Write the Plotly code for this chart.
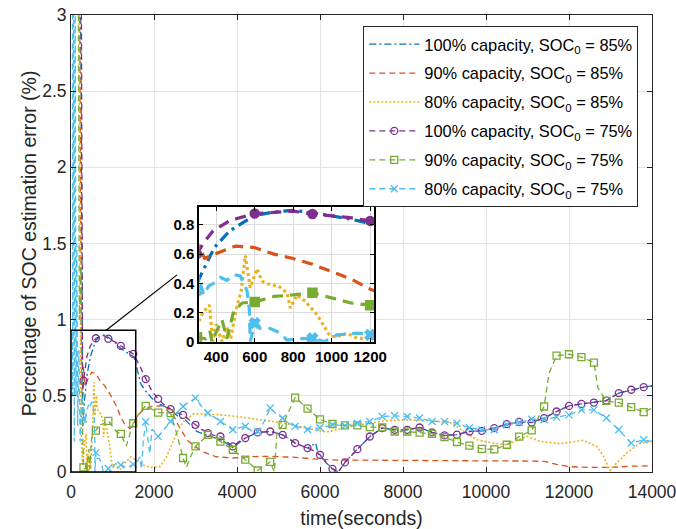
import numpy as np
import plotly.graph_objects as go

# ---------------- data (time [s], SOC estimation error [%]) ----------------
blue_100_85 = [(0, 15), (285, 0.3), (310, 0.43), (350, 0.54), (390, 0.645), (470, 0.76), (600, 0.865),
               (700, 0.889), (800, 0.90), (900, 0.885), (1000, 0.865), (1100, 0.84), (1200, 0.81),
               (1300, 0.79), (1400, 0.775), (1520, 0.755), (1600, 0.66), (1680, 0.58), (1800, 0.53),
               (1900, 0.5), (2000, 0.47), (2150, 0.444), (2400, 0.41), (2600, 0.36), (2750, 0.343),
               (3030, 0.267), (3350, 0.234), (3600, 0.215), (3900, 0.16), (4200, 0.223), (4500, 0.26),
               (4800, 0.266), (5100, 0.244), (5400, 0.19), (5700, 0.157), (5900, 0.19), (5950, 0.12),
               (6000, 0.11), (6300, 0.02), (6442, 0.0), (6600, 0.063), (6900, 0.15), (7200, 0.233),
               (7500, 0.288), (7800, 0.277), (8100, 0.277), (8400, 0.292), (8700, 0.26), (9000, 0.24),
               (9300, 0.245), (9600, 0.266), (9900, 0.27), (10200, 0.288), (10500, 0.314), (10800, 0.329),
               (11100, 0.325), (11400, 0.354), (11700, 0.397), (12000, 0.434), (12300, 0.447),
               (12600, 0.456), (12900, 0.469), (13200, 0.518), (13500, 0.54), (13800, 0.557), (14000, 0.566)]

orange_90_85 = [(0, 15), (250, 0.72), (300, 0.68), (340, 0.57), (390, 0.6), (500, 0.655), (600, 0.645),
                (700, 0.6), (800, 0.57), (900, 0.53), (1000, 0.48), (1100, 0.43), (1200, 0.36), (1300, 0.31),
                (1420, 0.285), (1500, 0.31), (1600, 0.37), (1750, 0.41), (1950, 0.43), (2200, 0.435),
                (2400, 0.41), (2600, 0.3), (2800, 0.21), (3000, 0.165), (3200, 0.13), (3500, 0.1),
                (3900, 0.092), (4300, 0.1), (4700, 0.103), (5300, 0.098), (5900, 0.085), (6400, 0.078),
                (7000, 0.078), (8000, 0.075), (9000, 0.074), (10000, 0.073), (11000, 0.072), (11400, 0.07),
                (11700, 0.05), (12000, 0.035), (12500, 0.03), (13000, 0.03), (13500, 0.038), (14000, 0.04)]

yellow_80_85 = [(0, 15), (240, 0.3), (280, 0.05), (330, 0.2), (365, 0.25), (382, 0.0), (400, 0.12), (430, 0.0),
                (455, 0.1), (475, 0.02), (500, 0.2), (530, 0.35), (551, 0.59), (577, 0.37), (612, 0.5),
                (638, 0.415), (681, 0.39), (725, 0.38), (768, 0.334), (785, 0.23), (820, 0.32), (863, 0.277),
                (924, 0.184), (967, 0.09), (993, 0.035), (1028, 0.035), (1080, 0.058), (1132, 0.023),
                (1200, 0.02), (1300, 0.06), (1450, 0.1), (1550, 0.08), (1700, 0.05), (1900, 0.03),
                (2145, 0.035), (2306, 0.102), (2546, 0.256), (2707, 0.332), (2948, 0.382), (3511, 0.377),
                (3992, 0.365), (4555, 0.343), (5117, 0.321), (5680, 0.288), (6162, 0.262), (6563, 0.288),
                (6965, 0.31), (7527, 0.335), (8009, 0.343), (8491, 0.339), (9134, 0.325), (9456, 0.27),
                (9777, 0.212), (10178, 0.19), (10500, 0.179), (10982, 0.234), (11303, 0.201), (11786, 0.186),
                (12348, 0.208), (12670, 0.168), (12830, 0.103), (12991, 0.01), (13152, 0.06), (13393, 0.125),
                (13714, 0.19), (14000, 0.201)]

purple_100_75 = [(0, 25), (280, 0.5), (300, 0.6), (330, 0.67), (384, 0.76), (470, 0.83), (600, 0.878),
                 (716, 0.888), (800, 0.895), (900, 0.875), (1000, 0.862), (1096, 0.85), (1200, 0.828),
                 (1350, 0.8), (1500, 0.775), (1650, 0.7), (1800, 0.61), (1950, 0.53), (2100, 0.48),
                 (2250, 0.44), (2400, 0.413), (2550, 0.39), (2700, 0.375), (2850, 0.34), (3000, 0.31),
                 (3150, 0.28), (3300, 0.255), (3450, 0.24), (3600, 0.233), (3750, 0.2), (3900, 0.168),
                 (4050, 0.2), (4200, 0.223), (4350, 0.245), (4500, 0.26), (4800, 0.266), (5100, 0.244),
                 (5250, 0.22), (5400, 0.19), (5700, 0.157), (5850, 0.14), (6000, 0.113), (6150, 0.06),
                 (6300, 0.02), (6442, 0.0), (6600, 0.063), (6900, 0.15), (7200, 0.233), (7500, 0.288),
                 (7800, 0.277), (8100, 0.277), (8400, 0.292), (8700, 0.26), (9000, 0.24), (9300, 0.245),
                 (9600, 0.266), (9900, 0.27), (10200, 0.288), (10500, 0.314), (10800, 0.329), (11100, 0.325),
                 (11400, 0.354), (11700, 0.397), (12000, 0.434), (12300, 0.447), (12600, 0.456),
                 (12900, 0.469), (13200, 0.518), (13500, 0.54), (13800, 0.557), (14000, 0.566)]

green_90_75 = [(0, 20), (200, 1.0), (235, 1.35), (265, 0.5), (300, 0.03), (345, 0.02), (368, 0.07), (377, 0.0),
               (430, 0.15), (455, 0.02), (491, 0.21), (535, 0.265), (600, 0.272), (700, 0.31), (800, 0.32),
               (900, 0.336), (1000, 0.3), (1100, 0.265), (1200, 0.25), (1330, 0.17), (1500, 0.32),
               (1650, 0.39), (1800, 0.434), (1950, 0.41), (2100, 0.39), (2250, 0.39), (2400, 0.386),
               (2550, 0.25), (2700, 0.092), (2780, 0.03), (2880, 0.1), (3000, 0.168), (3300, 0.244),
               (3600, 0.2), (3900, 0.146), (4200, 0.081), (4500, 0.01), (4800, 0.066), (4900, 0.0),
               (4960, 0.25), (5100, 0.31), (5400, 0.488), (5700, 0.416), (6000, 0.345), (6300, 0.315),
               (6600, 0.306), (6900, 0.306), (7200, 0.295), (7500, 0.293), (7800, 0.266), (8100, 0.266),
               (8400, 0.258), (8700, 0.25), (9000, 0.229), (9300, 0.197), (9600, 0.173), (9900, 0.152),
               (10200, 0.148), (10500, 0.179), (10800, 0.232), (11100, 0.273), (11400, 0.43), (11520, 0.65),
               (11700, 0.764), (12000, 0.773), (12300, 0.754), (12600, 0.718), (12700, 0.55), (12900, 0.467),
               (13200, 0.456), (13500, 0.426), (13800, 0.393), (14000, 0.42)]

cyan_80_75 = [(0, 25), (40, 0.5), (60, 3.5), (80, 0.2), (100, 3.2), (120, 0.5), (140, 1.5), (160, 0.3),
              (190, 0.8), (220, 0.2), (260, 0.5), (300, 0.35), (314, 0.415), (335, 0.32), (360, 0.38),
              (387, 0.40), (422, 0.44), (456, 0.42), (490, 0.46), (525, 0.45), (560, 0.35), (572, 0.22),
              (577, 0.0), (600, 0.127), (629, 0.09), (681, 0.09), (733, 0.06), (768, 0.01), (820, 0.02),
              (900, 0.023), (960, 0.0), (993, 0.02), (1028, 0.046), (1132, 0.058), (1200, 0.046),
              (1350, 0.03), (1500, 0.05), (1580, 0.06), (1663, 0.1), (1700, 0.02), (1740, 0.2), (1800, 0.33),
              (1850, 0.22), (1900, 0.12), (1950, 0.28), (2000, 0.27), (2100, 0.234), (2250, 0.28),
              (2400, 0.332), (2550, 0.39), (2700, 0.43), (2850, 0.46), (3000, 0.485), (3150, 0.43),
              (3300, 0.387), (3450, 0.36), (3600, 0.332), (3750, 0.3), (3900, 0.277), (4050, 0.29),
              (4200, 0.3), (4350, 0.27), (4500, 0.266), (4650, 0.33), (4800, 0.42), (4950, 0.38),
              (5100, 0.354), (5250, 0.32), (5400, 0.3), (5700, 0.279), (6000, 0.29), (6300, 0.31),
              (6600, 0.304), (6900, 0.32), (7200, 0.332), (7500, 0.364), (7800, 0.369), (8100, 0.364),
              (8400, 0.354), (8700, 0.332), (9000, 0.332), (9300, 0.32), (9600, 0.29), (9900, 0.277),
              (10200, 0.277), (10500, 0.31), (10800, 0.325), (11100, 0.347), (11400, 0.343), (11700, 0.36),
              (12000, 0.375), (12300, 0.408), (12600, 0.408), (12900, 0.354), (13200, 0.277), (13500, 0.19),
              (13800, 0.212), (14000, 0.2)]

legend_names = ["100% capacity, SOC<sub>0</sub> = 85%", "90% capacity, SOC<sub>0</sub> = 85%",
                "80% capacity, SOC<sub>0</sub> = 85%", "100% capacity, SOC<sub>0</sub> = 75%",
                "90% capacity, SOC<sub>0</sub> = 75%", "80% capacity, SOC<sub>0</sub> = 75%"]

x_ticks = [0, 2000, 4000, 6000, 8000, 10000, 12000, 14000]
x_tick_labels = ["0", "2000", "4000", "6000", "8000", "10000", "12000", "14000"]
y_ticks = [0, 0.5, 1, 1.5, 2, 2.5, 3]
y_tick_labels = ["0", "0.5", "1", "1.5", "2", "2.5", "3"]
inset_x_ticks = [400, 600, 800, 1000, 1200]
inset_x_labels = ["400", "600", "800", "1000", "1200"]
inset_y_ticks = [0, 0.2, 0.4, 0.6, 0.8]
inset_y_labels = ["0", "0.2", "0.4", "0.6", "0.8"]
marker_step = 300  # seconds between markers

# ---------------- styles ----------------
FONT = "Liberation Sans, Arial, Helvetica, sans-serif"
AX = "#262626"
GRID = "#e3e3e3"
styles = [
    dict(color="#0072BD", width=1.3, dash="7px,3px,2px,3px", dash2="11px,5px,3px,5px", symbol=None),
    dict(color="#D95319", width=1.3, dash="6px,4px", dash2="11px,7px", symbol=None),
    dict(color="#EDB120", width=1.6, dash="2px,2px", dash2="3px,3px", symbol=None),
    dict(color="#7E2F8E", width=1.3, dash="6px,4px", dash2="11px,7px", symbol="circle"),
    dict(color="#77AC30", width=1.3, dash="6px,4px", dash2="11px,7px", symbol="square"),
    dict(color="#4DBEEE", width=1.3, dash="6px,4px", dash2="11px,7px", symbol="x-thin"),
]
all_series = [blue_100_85, orange_90_85, yellow_80_85, purple_100_75, green_90_75, cyan_80_75]

fig = go.Figure()
for name, data, st in zip(legend_names, all_series, styles):
    t = np.array([p[0] for p in data], dtype=float)
    e = np.array([p[1] for p in data], dtype=float)
    fig.add_trace(go.Scatter(x=t, y=e, mode="lines", showlegend=False, hoverinfo="skip",
                             line=dict(color=st["color"], width=st["width"], dash=st["dash"]),
                             xaxis="x", yaxis="y"))
    fig.add_trace(go.Scatter(x=t, y=e, mode="lines", showlegend=False, hoverinfo="skip",
                             line=dict(color=st["color"], width=3.2, dash=st["dash2"]),
                             xaxis="x2", yaxis="y2"))
    if st["symbol"]:
        m = (t % marker_step == 0) & (t > 0) & (t < 14000)
        sym_open = st["symbol"] + "-open"
        fig.add_trace(go.Scatter(x=t[m], y=e[m], mode="markers", showlegend=False, hoverinfo="skip",
                                 marker=dict(symbol=sym_open, size=7, color=st["color"],
                                             line=dict(color=st["color"], width=1.3)),
                                 xaxis="x", yaxis="y"))
        fig.add_trace(go.Scatter(x=t[m], y=e[m], mode="markers", showlegend=False, hoverinfo="skip",
                                 marker=dict(symbol=st["symbol"] if st["symbol"] != "x-thin" else "x",
                                             size=9, color=st["color"],
                                             line=dict(color=st["color"], width=1.5)),
                                 xaxis="x2", yaxis="y2"))
    fig.add_trace(go.Scatter(x=[None], y=[None], name=name, legendgroup=name,
                             mode="lines+markers" if st["symbol"] else "lines",
                             line=dict(color=st["color"], width=st["width"], dash=st["dash"]),
                             marker=dict(symbol=(st["symbol"] + "-open") if st["symbol"] else "circle",
                                         size=7, color=st["color"],
                                         line=dict(color=st["color"], width=1.3)),
                             xaxis="x", yaxis="y"))

# plot area geometry (pixels)
W, H = 676, 529
L, R, T, B = 71, 652, 14.5, 472.3
pw, ph = R - L, B - T
ins_l, ins_r, ins_t, ins_b = 199.3, 374.0, 207.3, 341.7

fig.update_layout(
    width=W, height=H,
    margin=dict(l=L, r=W - R, t=T, b=H - B, pad=0, autoexpand=False),
    paper_bgcolor="white", plot_bgcolor="white",
    font=dict(family=FONT, color=AX),
    xaxis=dict(range=[0, 14000], tickvals=x_ticks, ticktext=x_tick_labels, showgrid=True,
               gridcolor=GRID, gridwidth=1, automargin=False, ticklabeloverflow="allow",
               zeroline=False, showline=True, linecolor=AX, linewidth=1, mirror="ticks",
               ticks="inside", ticklen=5, tickcolor=AX, tickfont=dict(size=17.5, color=AX),
               ticklabelstandoff=4,
               title=dict(text="time(seconds)", font=dict(size=19.5, color=AX), standoff=12),
               domain=[0, 1], anchor="y"),
    yaxis=dict(range=[0, 3], tickvals=y_ticks, ticktext=y_tick_labels, showgrid=True,
               gridcolor=GRID, gridwidth=1, automargin=False, ticklabeloverflow="allow",
               zeroline=False, showline=True, linecolor=AX, linewidth=1, mirror="ticks",
               ticks="inside", ticklen=5, tickcolor=AX, tickfont=dict(size=17.5, color=AX),
               title=dict(text="Percentage of SOC estimation error (%)", font=dict(size=19.5, color=AX),
                          standoff=0),
               domain=[0, 1], anchor="x"),
    xaxis2=dict(range=[312, 1220], tickvals=inset_x_ticks, ticktext=inset_x_labels,
                domain=[(ins_l - L) / pw, (ins_r - L) / pw], automargin=False,
                anchor="y2", showgrid=True, gridcolor="#dcdcdc", zeroline=False, showline=True,
                linecolor="black", linewidth=2, mirror="ticks", ticks="inside", ticklen=4,
                tickcolor="black", tickfont=dict(size=15, color="black", weight="bold")),
    yaxis2=dict(range=[0, 0.92], tickvals=inset_y_ticks, ticktext=inset_y_labels,
                domain=[(B - ins_b) / ph, (B - ins_t) / ph], automargin=False,
                anchor="x2", showgrid=True, gridcolor="#dcdcdc", zeroline=False, showline=True,
                linecolor="black", linewidth=2, mirror="ticks", ticks="inside", ticklen=4,
                tickcolor="black", tickfont=dict(size=15, color="black", weight="bold")),
    legend=dict(x=(363.3 - L) / pw, y=(B - 25.5) / ph, xanchor="left", yanchor="top",
                bgcolor="white", bordercolor=AX, borderwidth=1, font=dict(size=16.4, color="black"),
                tracegroupgap=4.6, itemwidth=50),
    shapes=[
        dict(type="rect", xref="x2", yref="y2", x0=312, x1=1220, y0=0, y1=0.92,
             fillcolor="white", line=dict(width=0), layer="below"),
        dict(type="rect", xref="x", yref="y", x0=0, x1=1560, y0=0, y1=0.93,
             line=dict(color="black", width=1.5), layer="above"),
        dict(type="line", xref="x", yref="y", x0=848, y0=0.93, x1=2555, y1=1.294,
             line=dict(color="black", width=1.2), layer="above"),
    ],
)

fig.write_html("out.html")
